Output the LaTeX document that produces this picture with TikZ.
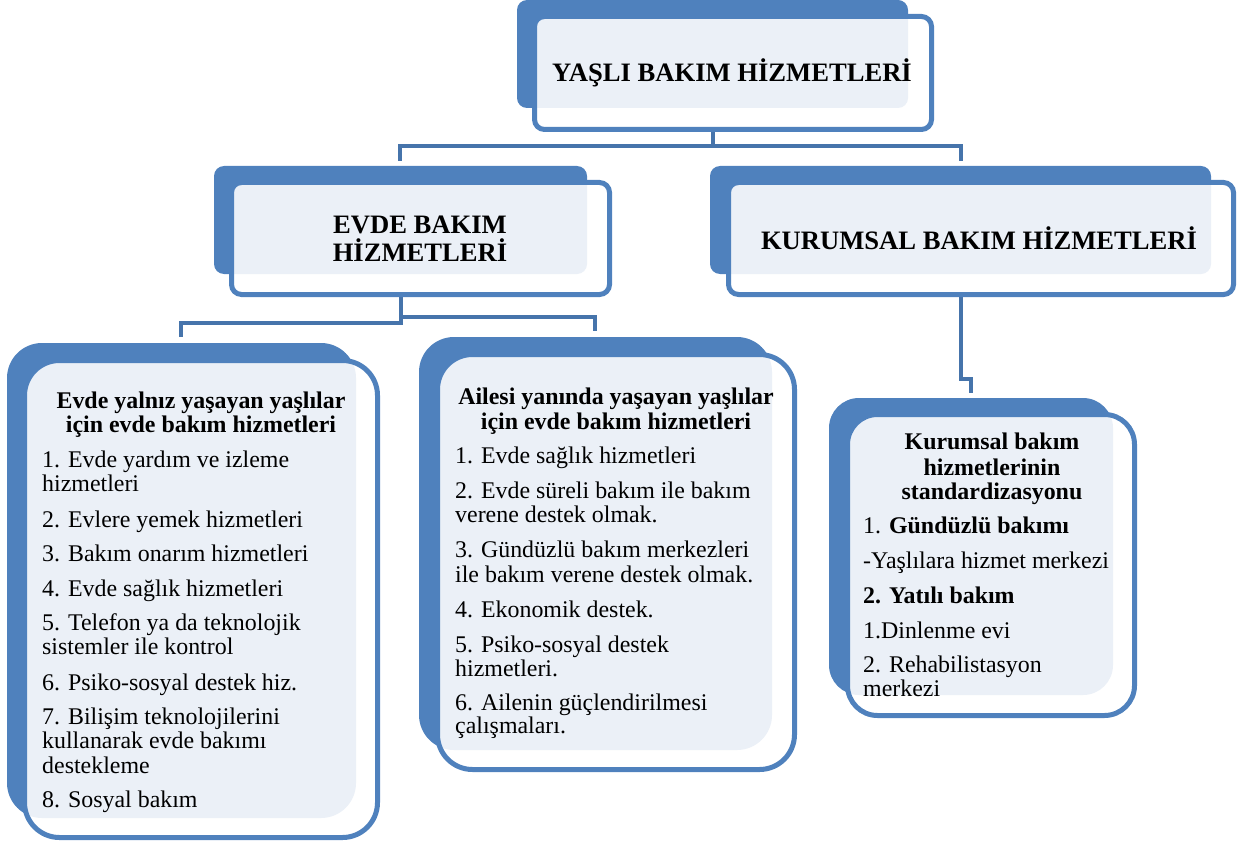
\documentclass[tikz,border=0pt]{standalone}
\usepackage{fontspec}
\setmainfont{Liberation Serif}
\definecolor{bk}{HTML}{4F81BD}
\definecolor{lt}{HTML}{EBF0F7}
\definecolor{cn}{HTML}{4674AB}
\definecolor{cnl}{HTML}{DCE3ED}
\newcommand\twobox[9]{%
  \fill[bk,rounded corners=#9] (#1,#2) rectangle (#3,#4);
  \fill[white,rounded corners=#9] (#5,#6) rectangle (#7,#8);
  \begin{scope}
    \clip[rounded corners=#9] (#1,#2) rectangle (#3,#4);
    \fill[lt,rounded corners=#9] (#5,#6) rectangle (#7,#8);
  \end{scope}
  \draw[bk,line width=5pt,rounded corners=#9] (#5,#6) rectangle (#7,#8);
}
\tikzset{
  conn/.style={cn,line width=4.5pt},
  connl/.style={cnl,line width=4.5pt},
  title/.style={font=\fontsize{26.6}{28}\selectfont\bfseries,inner sep=0pt,anchor=base},
  head/.style={font=\fontsize{23.9}{24.5}\selectfont\bfseries,inner sep=0pt,anchor=base},
  item/.style={font=\fontsize{23.9}{24.5}\selectfont,inner sep=0pt,anchor=base west},
}
\begin{document}
\begin{tikzpicture}[x=1pt,y=-1pt]
\useasboundingbox (0,0) rectangle (1241,845);
% anchor coordinates
\coordinate (topS) at (713,132);
\coordinate (topH) at (713,146);
\coordinate (evdeN) at (400,161);
\coordinate (kurN) at (961,161);
\coordinate (evdeS) at (401,297);
\coordinate (leftN) at (181,337);
\coordinate (midN) at (595,331);
\coordinate (kurS) at (961,297);
\coordinate (kurBend) at (961,379);
\coordinate (rightN) at (971,393);
% connectors
\draw[connl] (713,108) -- (topS);
\draw[connl] (401,274) -- (evdeS);
\draw[connl] (961,274) -- (kurS);
\draw[conn] (topS) -- (topH) -| (evdeN);
\draw[conn] (topH) -| (kurN);
\draw[conn] (evdeS) -- (401,323) -| (leftN);
\draw[conn] (401,317) -| (midN);
\draw[conn] (kurS) -- (kurBend) -| (rightN);
% boxes
\twobox{517}{0}{908}{108}{534.5}{16.5}{931.5}{129.5}{10pt}
\twobox{214}{166}{587}{274}{231.5}{182.5}{609.5}{294.5}{10pt}
\twobox{710}{166}{1211}{274}{728.5}{182.5}{1233.5}{294.5}{10pt}
\twobox{7}{343}{356}{818}{24.5}{360.5}{377.5}{837.5}{35pt}
\twobox{419}{337}{772}{750}{437.5}{354.5}{794.5}{769.5}{35pt}
\twobox{829}{398}{1113}{695}{847.5}{414.5}{1134.5}{715.5}{30pt}
% titles
\node[title] (t0) at (732,82) {YAŞLI BAKIM HİZMETLERİ};
\node[title] (t1) at (420,233) {EVDE BAKIM};
\node[title] (t2) at (420,261) {HİZMETLERİ};
\node[title] (t3) at (979,249) {KURUMSAL BAKIM HİZMETLERİ};
% left box
\node[head] (lh1) at (201,408) {Evde yalnız yaşayan yaşlılar};
\node[head] (lh2) at (201,432) {için evde bakım hizmetleri};
\foreach \yy/\tt [count=\i] in {467/{1. Evde yardım ve izleme},491/{hizmetleri},527/{2. Evlere yemek hizmetleri},561/{3. Bakım onarım hizmetleri},596/{4. Evde sağlık hizmetleri},630/{5. Telefon ya da teknolojik},654/{sistemler ile kontrol},690/{6. Psiko-sosyal destek hiz.},724/{7. Bilişim teknolojilerini},748/{kullanarak evde bakımı},773/{destekleme},807/{8. Sosyal bakım}}
  \node[item,name=L\i] at (42,\yy) {\tt};
% middle box
\node[head] (mh1) at (616,404) {Ailesi yanında yaşayan yaşlılar};
\node[head] (mh2) at (616,429) {için evde bakım hizmetleri};
\foreach \yy/\tt [count=\i] in {463/{1. Evde sağlık hizmetleri},498/{2. Evde süreli bakım ile bakım},522/{verene destek olmak.},557/{3. Gündüzlü bakım merkezleri},582/{ile bakım verene destek olmak.},617/{4. Ekonomik destek.},652/{5. Psiko-sosyal destek},676/{hizmetleri.},710/{6. Ailenin güçlendirilmesi},733/{çalışmaları.}}
  \node[item,name=M\i] at (455,\yy) {\tt};
% right box
\node[head] (rh1) at (992,449) {Kurumsal bakım};
\node[head] (rh2) at (992,475) {hizmetlerinin};
\node[head] (rh3) at (992,499) {standardizasyonu};
\node[item] (R1) at (863,533) {1. \textbf{Gündüzlü bakımı}};
\node[item] (R2) at (863,568) {-Yaşlılara hizmet merkezi};
\node[item] (R3) at (863,603) {\textbf{2. Yatılı bakım}};
\node[item] (R4) at (863,638) {1.Dinlenme evi};
\node[item] (R5) at (863,672) {2. Rehabilistasyon};
\node[item] (R6) at (863,696) {merkezi};
\end{tikzpicture}
\end{document}
